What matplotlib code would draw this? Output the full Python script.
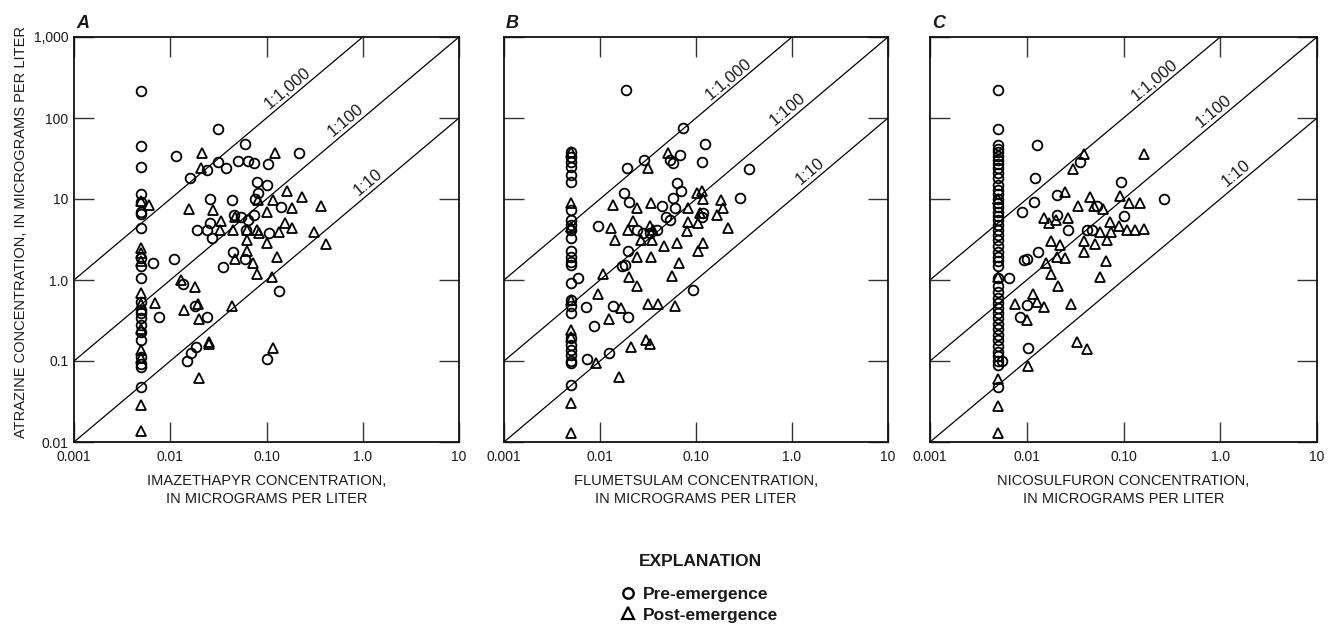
import math
import matplotlib
matplotlib.use("Agg")
import matplotlib.pyplot as plt
from matplotlib.lines import Line2D
from matplotlib.ticker import NullLocator

# ---------------- data ----------------
ND_X = 0.005  # x value of the vertical column of samples

# Panel A: Imazethapyr
A_pre_x = [0.031, 0.06, 0.0114, 0.217, 0.0162, 0.0242, 0.031, 0.038, 0.051, 0.065, 0.074, 0.104,
           0.08, 0.1, 0.026, 0.044, 0.076, 0.081, 0.143, 0.019, 0.024, 0.026, 0.027, 0.046, 0.054,
           0.061, 0.065, 0.074, 0.107, 0.045, 0.06, 0.035, 0.011, 0.0135, 0.135, 0.018, 0.024,
           0.0148, 0.0166, 0.0185, 0.1, 0.0066, 0.0077]
A_pre_y = [73, 48, 34, 37.5, 18.4, 22.9, 28.7, 24, 29.3, 29.3, 27.7, 27,
           16.1, 14.9, 10, 9.7, 10, 12, 7.9, 4.1, 4.1, 5.0, 3.3, 6.4, 6.0,
           4.1, 5.5, 6.4, 3.8, 2.2, 1.8, 1.46, 1.8, 0.88, 0.73, 0.48, 0.35,
           0.10, 0.126, 0.15, 0.105, 1.6, 0.35]
A_post_x = [0.0215, 0.021, 0.122, 0.0158, 0.0275, 0.034, 0.033, 0.045, 0.047, 0.062, 0.081, 0.079,
            0.083, 0.1, 0.118, 0.1, 0.162, 0.234, 0.185, 0.155, 0.185, 0.135, 0.366, 0.313, 0.413,
            0.13, 0.063, 0.073, 0.08, 0.047, 0.063, 0.115, 0.013, 0.018, 0.014, 0.0195, 0.02,
            0.044, 0.025, 0.025, 0.118, 0.02, 0.006, 0.007]
A_post_y = [36.8, 24, 36.8, 7.5, 7.3, 5.3, 4.1, 4.1, 6.0, 4.1, 9.7, 4.1,
            3.8, 6.9, 9.7, 2.84, 12.4, 10.7, 7.7, 5.1, 4.4, 3.9, 8.2, 3.9, 2.8,
            1.9, 2.3, 1.6, 1.2, 1.8, 3.1, 1.1, 1.0, 0.83, 0.43, 0.5, 0.33,
            0.48, 0.17, 0.16, 0.145, 0.062, 8.5, 0.52]
A_pre_nd_y = [215, 45, 24.8, 11.5, 9.3, 7.0, 6.5, 4.4, 1.86, 1.5, 1.06, 0.54, 0.43, 0.39, 0.34,
              0.28, 0.23, 0.18, 0.113, 0.093, 0.085, 0.048]
A_post_nd_y = [9.5, 2.5, 2.15, 1.7, 0.69, 0.5, 0.25, 0.137, 0.11, 0.029, 0.0135]

# Panel B: Flumetsulam
B_pre_x = [0.0185, 0.0726, 0.124, 0.029, 0.019, 0.054, 0.068, 0.057, 0.115, 0.356, 0.0178, 0.02,
           0.064, 0.069, 0.057, 0.044, 0.06, 0.287, 0.119, 0.115, 0.0096, 0.024, 0.028, 0.033,
           0.039, 0.049, 0.053, 0.0194, 0.018, 0.017, 0.094, 0.0071, 0.0087, 0.0135, 0.0194,
           0.0074, 0.0125, 0.0059]
B_pre_y = [223, 76, 48, 30.4, 24.4, 30, 35, 27.7, 28.5, 23.5, 11.8, 9.3,
           15.7, 12.4, 10.4, 8.1, 7.7, 10.4, 6.7, 6.0, 4.6, 4.2, 3.8, 3.8,
           4.2, 6.0, 5.5, 2.3, 1.55, 1.5, 0.75, 0.47, 0.27, 0.48, 0.35,
           0.105, 0.126, 1.06]
B_post_x = [0.0515, 0.032, 0.0136, 0.034, 0.0245, 0.022, 0.0129, 0.0197, 0.0143, 0.033, 0.036,
            0.027, 0.035, 0.046, 0.064, 0.083, 0.103, 0.115, 0.117, 0.083, 0.08, 0.11, 0.106,
            0.117, 0.106, 0.18, 0.19, 0.165, 0.217, 0.024, 0.034, 0.066, 0.056, 0.0107, 0.02,
            0.024, 0.0096, 0.0165, 0.0125, 0.032, 0.04, 0.06, 0.021, 0.03, 0.033, 0.009, 0.0158]
B_post_y = [36.8, 24, 8.4, 8.8, 7.7, 5.3, 4.4, 4.1, 3.1, 4.6, 4.2,
            3.1, 3.1, 2.6, 2.9, 7.7, 11.8, 12.6, 10, 5.2, 4.0, 6.7, 5.0,
            2.9, 2.3, 9.7, 7.7, 6.3, 4.4, 1.9, 1.9, 1.6, 1.12, 1.2, 1.1,
            0.84, 0.68, 0.45, 0.33, 0.5, 0.5, 0.48, 0.15, 0.18, 0.16, 0.094, 0.064]
B_pre_nd_y = [38, 33, 29, 25, 19.8, 16.4, 7.3, 5.5, 4.8, 4.1, 3.3, 2.3, 1.94, 1.68, 1.53, 0.92,
              0.57, 0.48, 0.39, 0.19, 0.158, 0.137, 0.118, 0.1, 0.094, 0.05]
B_post_nd_y = [38, 9, 4.5, 0.57, 0.24, 0.2, 0.03, 0.013]

# Panel C: Nicosulfuron
C_pre_x = [0.0127, 0.0122, 0.0119, 0.0089, 0.0204, 0.0357, 0.094, 0.26, 0.0207, 0.027, 0.053,
           0.102, 0.013, 0.01, 0.0094, 0.042, 0.047, 0.01, 0.0085, 0.0102, 0.0065, 0.0055]
C_pre_y = [46.6, 18, 9.1, 6.9, 11.2, 28.5, 16, 10, 6.4, 4.1, 8.1,
           6.2, 2.2, 1.8, 1.75, 4.1, 4.1, 0.49, 0.35, 0.145, 1.05, 0.1]
C_post_x = [0.0386, 0.03, 0.161, 0.025, 0.0149, 0.0168, 0.02, 0.027, 0.034, 0.045, 0.049, 0.061,
            0.092, 0.115, 0.147, 0.039, 0.051, 0.067, 0.073, 0.089, 0.108, 0.131, 0.161, 0.075,
            0.057, 0.0177, 0.022, 0.0205, 0.025, 0.016, 0.018, 0.021, 0.039, 0.066, 0.057,
            0.0117, 0.0076, 0.0127, 0.0149, 0.01, 0.0285, 0.033, 0.042, 0.0102]
C_post_y = [36, 23.3, 36, 12.1, 5.9, 5.0, 5.5, 5.8, 8.1, 10.5, 8.1, 7.5,
            10.9, 8.9, 8.9, 3.05, 2.8, 3.1, 5.2, 4.6, 4.1, 4.1, 4.3, 3.9,
            3.9, 3.05, 2.7, 1.9, 1.85, 1.6, 1.2, 0.84, 2.2, 1.7, 1.1,
            0.68, 0.5, 0.53, 0.47, 0.32, 0.5, 0.17, 0.14, 0.087]
C_pre_nd_y = [219, 74, 46, 42, 38, 34, 30, 27, 24, 21, 18, 15, 13, 11.5, 10, 9, 8, 7, 6.2, 5.5,
              4.8, 4.2, 3.6, 3.1, 2.6, 2.2, 1.9, 1.7, 1.5, 1.05, 0.85, 0.72, 0.6, 0.52, 0.45,
              0.39, 0.34, 0.29, 0.25, 0.21, 0.18, 0.155, 0.13, 0.115, 0.1, 0.088, 0.048]
C_post_nd_y = [10, 1.1, 0.06, 0.028, 0.013]

ratios = [1000, 100, 10]
ratio_labels = ["1:1,000", "1:100", "1:10"]
label_x = {"A": [0.19, 0.76, 1.33], "B": [0.25, 1.05, 1.8], "C": [0.24, 1.0, 1.7]}

x_ticks = [0.001, 0.01, 0.1, 1, 10]
x_ticklabels = ["0.001", "0.01", "0.10", "1.0", "10"]
y_ticks = [0.01, 0.1, 1, 10, 100, 1000]
y_ticklabels = ["0.01", "0.1", "1.0", "10", "100", "1,000"]

x_titles = ["IMAZETHAPYR CONCENTRATION,\nIN MICROGRAMS PER LITER",
            "FLUMETSULAM CONCENTRATION,\nIN MICROGRAMS PER LITER",
            "NICOSULFURON CONCENTRATION,\nIN MICROGRAMS PER LITER"]
y_title = "ATRAZINE CONCENTRATION, IN MICROGRAMS PER LITER"
panel_letters = ["A", "B", "C"]

# ---------------- figure ----------------
REG = ["Liberation Sans", "DejaVu Sans"]
plt.rcParams["font.family"] = REG
TXT = "#1a1a1a"

W, H = 1330, 626
fig = plt.figure(figsize=(W / 100, H / 100), dpi=100)

boxes = [(74, 459), (504, 888), (930, 1317)]
TOP, BOT = 37, 442

panels = [
    (A_pre_x, A_pre_y, A_post_x, A_post_y, A_pre_nd_y, A_post_nd_y),
    (B_pre_x, B_pre_y, B_post_x, B_post_y, B_pre_nd_y, B_post_nd_y),
    (C_pre_x, C_pre_y, C_post_x, C_post_y, C_pre_nd_y, C_post_nd_y),
]

mk_common = dict(ls="none", mfc="none", mec="black", mew=1.3, clip_on=False)

for i, ((l, r), data) in enumerate(zip(boxes, panels)):
    ax = fig.add_axes([l / W, 1 - BOT / H, (r - l) / W, (BOT - TOP) / H])
    ax.set_xscale("log")
    ax.set_yscale("log")
    ax.set_xlim(0.001, 10)
    ax.set_ylim(0.01, 1000)
    ax.xaxis.set_minor_locator(NullLocator())
    ax.yaxis.set_minor_locator(NullLocator())
    ax.set_xticks(x_ticks)
    ax.set_xticklabels(x_ticklabels)
    ax.set_yticks(y_ticks)
    if i == 0:
        ax.set_yticklabels(y_ticklabels)
    else:
        ax.set_yticklabels([])
    ax.tick_params(which="major", direction="in", length=14.5, width=1.0, color="#333333",
                   top=True, right=True, labelsize=10, labelcolor=TXT, pad=6)
    ax.tick_params(axis="y", pad=4)
    for s in ax.spines.values():
        s.set_linewidth(1.3)
        s.set_color("#111111")

    pre_x, pre_y, post_x, post_y, pre_nd, post_nd = data

    # ratio lines
    for rt in ratios:
        ax.plot([0.001, 10], [rt * 0.001, rt * 10], color="black", lw=0.9, zorder=1)

    ax.plot(pre_x + [ND_X] * len(pre_nd), pre_y + pre_nd, marker="o", ms=7.0, zorder=3,
            **mk_common)
    ax.plot(post_x + [ND_X] * len(post_nd), post_y + post_nd, marker="^", ms=7.6, zorder=3,
            **mk_common)

    # ratio labels
    p0 = ax.transData.transform((0.01, 0.1))
    p1 = ax.transData.transform((1, 10))
    ang = math.degrees(math.atan2(p1[1] - p0[1], p1[0] - p0[0]))
    for rt, lab, xc in zip(ratios, ratio_labels, label_x[panel_letters[i]]):
        ax.annotate(lab, xy=(xc, rt * xc), xytext=(-6, 7), textcoords="offset pixels",
                    rotation=ang, rotation_mode="anchor", ha="center", va="center",
                    fontsize=12, color=TXT, family=REG)

    # x title
    fig.text((l + r) / 2 / W, 1 - 490 / H, x_titles[i], ha="center", va="center",
             fontsize=10.5, color=TXT, family=REG, linespacing=1.37)
    # panel letter
    fig.text((l + 2) / W, 1 - 24 / H, panel_letters[i], ha="left", va="center",
             fontsize=13, fontweight="bold", fontstyle="italic", color=TXT, family=REG)

fig.text(21 / W, 1 - 232 / H, y_title, rotation=90, ha="center", va="center",
         fontsize=10.5, color=TXT, family=REG)

# explanation / legend
fig.text(700 / W, 1 - 562 / H, "EXPLANATION", ha="center", va="center",
         fontsize=12.5, fontweight="bold", color=TXT, family=REG)
handles = [Line2D([], [], marker="o", ls="none", mfc="white", mec="black", mew=1.7, ms=7.5),
           Line2D([], [], marker="^", ls="none", mfc="white", mec="black", mew=1.6, ms=8.5)]
fig.legend(handles, ["Pre-emergence", "Post-emergence"], loc="upper left",
           bbox_to_anchor=(621 / W, 1 - 587 / H), frameon=False,
           prop={"family": REG, "weight": "bold", "size": 12.5},
           handlelength=0.8, handletextpad=0.45, labelspacing=0.3,
           borderpad=0, borderaxespad=0, labelcolor=TXT)

fig.savefig("out.png", dpi=100)
